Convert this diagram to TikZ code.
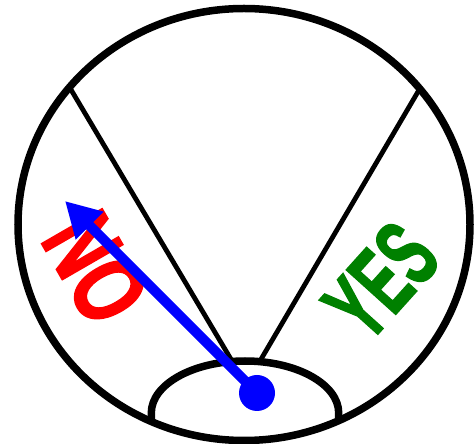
\documentclass[tikz,border=0pt]{standalone}
\usepackage{fontspec}
\newfontfamily\signfont{Liberation Sans}[BoldFeatures={FakeBold=2}]
\usetikzlibrary{arrows.meta}
\definecolor{nored}{RGB}{255,0,0}
\definecolor{yesgreen}{RGB}{0,128,0}
\definecolor{needleblue}{RGB}{0,0,255}

\begin{document}
\begin{tikzpicture}[x=1pt,y=1pt,
    rim/.style={draw,line width=7.5pt},
    spoke/.style={draw,line width=4.8pt},
    word/.style={inner sep=0pt},
    needle/.style={needleblue,line width=10pt,-{Triangle[length=35pt,width=37pt]}}]
  \useasboundingbox (0,0) rectangle (474,444);
  % dial sectors
  \coordinate (rimL) at (70,356);
  \coordinate (rimR) at (419,354);
  \coordinate (hubL) at (232,83);
  \coordinate (hubR) at (260,83);
  \draw[spoke] (rimL) -- (hubL);
  \draw[spoke] (rimR) -- (hubR);
  \draw[rim] (244,219.5) ellipse (226 and 216);
  \coordinate (domeL) at (151.3,25);
  \coordinate (domeR) at (338.7,25);
  \draw[rim] (domeL) -- ++(0,6) arc[start angle=180,end angle=0,x radius=93.7,y radius=52] -- (domeR);
  % labels
  \node[word,text=nored,rotate=-60,font=\signfont\bfseries\fontsize{101}{101}\selectfont] (no) at (96,176) {\scalebox{0.7}[1]{NO}};
  \node[word,text=yesgreen,rotate=48,font=\signfont\bfseries\fontsize{96}{96}\selectfont] (yes) at (381,163) {\scalebox{0.59}[1]{YES}};
  % pointer
  \node[circle,fill=needleblue,minimum size=36pt,inner sep=0pt] (pivot) at (257,51) {};
  \coordinate (tip) at (65,243);
  \draw[needle] (pivot.center) -- (tip);
\end{tikzpicture}
\end{document}
